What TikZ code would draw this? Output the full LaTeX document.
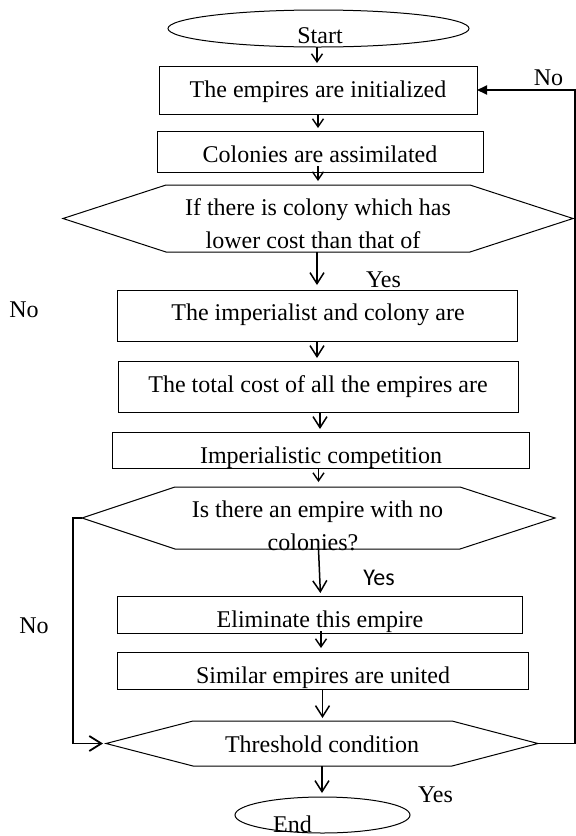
\documentclass[tikz,border=0pt]{standalone}
\usepackage{fontspec}
\setmainfont{Liberation Serif}
\newfontfamily\calibrifont{Carlito}
\usetikzlibrary{shapes.geometric,arrows.meta,calc}

\begin{document}
\begin{tikzpicture}[x=0.5pt, y=-0.5pt,
  frame/.style={rectangle, draw, line width=0.5pt, inner sep=0pt, outer sep=0pt},
  oval/.style={ellipse, draw, line width=0.5pt, inner sep=0pt, outer sep=0pt},
  hexframe/.style={rectangle, inner sep=0pt, outer sep=0pt},
  hexline/.style={line width=0.5pt, line join=miter},
  txt/.style={font=\fontsize{12}{14.4}\selectfont, anchor=base, inner sep=0pt},
  flow/.style={line width=0.75pt, -{Straight Barb[length=5.5pt, width=7pt, line width=0.75pt]}},
  flowsmall/.style={line width=0.7pt, -{Straight Barb[length=4pt, width=5.5pt, line width=0.7pt]}},
  loopline/.style={line width=0.9pt},
]
\useasboundingbox (0,0) rectangle (576,836);

% ---- terminals and process boxes ----
\node[oval,  minimum width=150.5pt, minimum height=18.5pt] (start) at (318.5,28.5) {};
\node[frame, minimum width=159pt,   minimum height=24pt]   (init)  at (318,90) {};
\node[frame, minimum width=163pt,   minimum height=20.5pt] (assim) at (320,151.5) {};
\node[frame, minimum width=200pt,   minimum height=25.5pt] (swap)  at (317,315.5) {};
\node[frame, minimum width=200pt,   minimum height=25.5pt] (total) at (318,386.5) {};
\node[frame, minimum width=208.5pt, minimum height=18pt]   (comp)  at (320.5,450) {};
\node[frame, minimum width=202.5pt, minimum height=18.5pt] (elim)  at (319.5,614.5) {};
\node[frame, minimum width=205.5pt, minimum height=18.5pt] (unite) at (322.5,670.5) {};
\node[oval,  minimum width=87.5pt,  minimum height=18pt]   (stop)  at (322.5,815) {};

% ---- decision hexagons ----
\node[hexframe, minimum width=255pt,   minimum height=33.5pt] (dcost)  at (318,218.5) {};
\node[hexframe, minimum width=236.5pt, minimum height=31pt]   (dempty) at (318.5,518) {};
\node[hexframe, minimum width=216pt,   minimum height=22.5pt] (dend)   at (322,743.5) {};

\draw[hexline] (dcost.west) -- ([xshift=51.5pt]dcost.north west) -- ([xshift=-51.5pt]dcost.north east)
  -- (dcost.east) -- ([xshift=-51.5pt]dcost.south east) -- ([xshift=51.5pt]dcost.south west) -- cycle;
\draw[hexline] (dempty.west) -- ([xshift=46.5pt]dempty.north west) -- ([xshift=-47.5pt]dempty.north east)
  -- (dempty.east) -- ([xshift=-47.5pt]dempty.south east) -- ([xshift=46.5pt]dempty.south west) -- cycle;
\draw[hexline] (dend.west) -- ([xshift=43.5pt]dend.north west) -- ([xshift=-43pt]dend.north east)
  -- (dend.east) -- ([xshift=-43pt]dend.south east) -- ([xshift=43.5pt]dend.south west) -- cycle;

% ---- texts ----
\node[txt] (tstart) at (320,43)    {Start};
\node[txt] (tinit)  at (318,97)    {The empires are initialized};
\node[txt] (tassim) at (320,162)   {Colonies are assimilated};
\node[txt] (tcost1) at (318,215)   {If there is colony which has};
\node[txt] (tcost2) at (313,248)   {lower cost than that of};
\node[txt] (tswap)  at (318,320)   {The imperialist and colony are};
\node[txt] (ttotal) at (318,392)   {The total cost of all the empires are};
\node[txt] (tcomp)  at (321,463)   {Imperialistic competition};
\node[txt] (tempt1) at (317.5,517) {Is there an empire with no};
\node[txt] (tempt2) at (313,550)   {colonies?};
\node[txt] (telim)  at (320,627)   {Eliminate this empire};
\node[txt] (tunite) at (323,683)   {Similar empires are united};
\node[txt] (tend)   at (322,752)   {Threshold condition};
\node[txt] (tstop)  at (292.5,832) {End};

% branch labels
\node[txt] (yes1) at (383.5,287) {Yes};
\node[txt, font=\calibrifont\fontsize{12}{14.4}\selectfont] (yes2) at (379,585) {Yes};
\node[txt] (yes3) at (435.5,802) {Yes};
\node[txt] (no1)  at (24,317)    {No};
\node[txt] (no2)  at (34,633)    {No};
\node[txt] (no3)  at (548.5,85)  {No};

% ---- main flow ----
\draw[flowsmall, shorten >=1.5pt] ([xshift=-0.75pt]start.south) -- ([xshift=-0.75pt]start.south |- init.north);
\draw[flowsmall, shorten >=1.5pt] (init.south) -- (init.south |- assim.north);
\draw[flowsmall, shorten >=2pt] ([xshift=-1pt, yshift=3pt]assim.south) -- ([xshift=-1pt]assim.south |- dcost.north);
\draw[flow, shorten >=2.5pt] ([xshift=-0.5pt]dcost.south) -- ([xshift=-0.5pt]dcost.south |- swap.north);
\draw[flow, shorten >=1.5pt] (swap.south) -- (swap.south |- total.north);
\draw[flow, shorten >=1.5pt] ([xshift=1pt]total.south) -- ([xshift=1pt]total.south |- comp.north);
\draw[flowsmall, shorten >=2.5pt] ([xshift=-1pt]comp.south) -- ([xshift=-1pt]comp.south |- dempty.north);
\draw[flow, shorten >=1.5pt] (dempty.south) -- ([xshift=1pt]dempty.south |- elim.north);
\draw[flowsmall, shorten >=2pt] ([xshift=0.75pt, yshift=1pt]elim.south) -- ([xshift=0.75pt]elim.south |- unite.north);
\draw[flow, shorten >=1.5pt] (unite.south) -- (unite.south |- dend.north);
\draw[flow, shorten >=2pt] (dend.south) -- (dend.south |- stop.north);

% ---- feedback loops ----
\draw[loopline, -{Straight Barb[length=6pt, width=7.5pt, line width=0.9pt]}, shorten >=1.5pt]
  (dempty.west) -- ++(-9,0) |- (dend.west);
\draw[loopline, -{Triangle[length=5pt, width=4.5pt]}]
  (dend.east) -- (575,743.5) |- (init.east);
\end{tikzpicture}
\end{document}
